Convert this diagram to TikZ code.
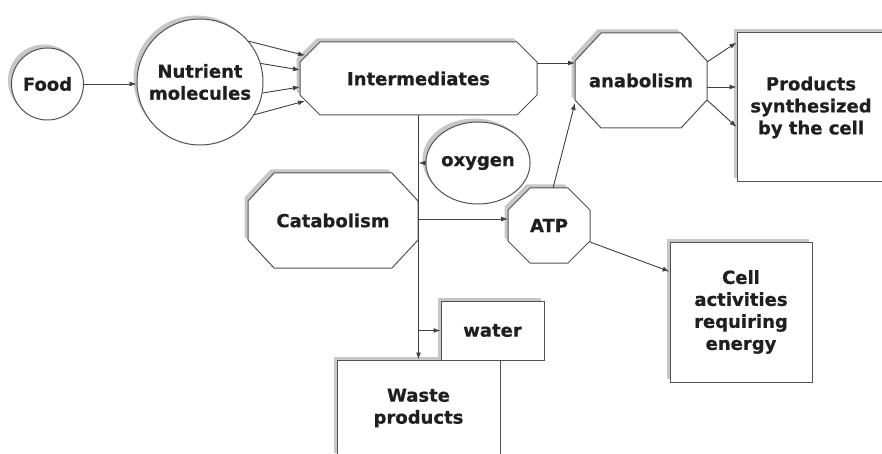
\documentclass[tikz,border=0pt]{standalone}
\usepackage{fontspec}
\setmainfont[BoldFeatures={FakeBold=0.6}]{DejaVu Sans}
\usetikzlibrary{shapes.geometric,shadows,calc,arrows.meta,backgrounds}

% chamfered frame drawn around a named label node: #1 node, #2 horizontal cut, #3 vertical cut
\newcommand\octframe[3]{%
  \path[octfill] ($(#1.north west)+(#2,0)$) -- ($(#1.north east)+(-#2,0)$)
    -- ($(#1.north east)+(0,#3)$) -- ($(#1.south east)+(0,-#3)$)
    -- ($(#1.south east)+(-#2,0)$) -- ($(#1.south west)+(#2,0)$)
    -- ($(#1.south west)+(0,-#3)$) -- ($(#1.north west)+(0,#3)$) -- cycle;}

\begin{document}
\begin{tikzpicture}[x=1pt,y=-1pt,
  every node/.style={font=\bfseries\fontsize{18}{22}\selectfont, text=black!88,
    align=center, inner sep=0pt},
  sh/.style={drop shadow={shadow xshift=-3.5pt, shadow yshift=3.5pt,
    fill=black!22, opacity=1}},
  edge line/.style={draw=black!68, line width=1pt},
  circ/.style={circle, edge line, fill=white, sh},
  oval/.style={ellipse, edge line, fill=white, sh},
  boxn/.style={rectangle, edge line, fill=white, sh},
  octlabel/.style={rectangle, draw=none, outer sep=0pt},
  octfill/.style={edge line, fill=white, sh},
  arr/.style={draw=black!75, line width=0.9pt, -{Latex[length=7pt,width=5pt]}},
]
\useasboundingbox (0,0) rectangle (882,454);

% round nodes
\node[circ, minimum size=72pt] (food) at (47.5,84) {Food};
\node[circ, minimum size=126pt] (nutr) at (200,82) {Nutrient\\molecules};
\node[oval, minimum width=90pt, minimum height=82pt] (oxy) at (478,163) {oxygen};

% chamfered nodes (labels; frames are drawn on the background layer)
\node[octlabel, minimum width=237pt, minimum height=73pt] (inter) at (418.5,78.5) {Intermediates};
\node[octlabel, minimum width=132pt, minimum height=95pt] (anab) at (641,80.5) {anabolism};
\node[octlabel, minimum width=170pt, minimum height=95pt] (catab) at (333,220.5) {Catabolism};
\node[octlabel, minimum width=82pt, minimum height=75pt] (atp) at (549,225.5) {ATP};

\begin{scope}[on background layer]
  \path[fill=white] (0,0) rectangle (882,454);
  \octframe{inter}{20}{20}
  \octframe{anab}{26}{28}
  \octframe{catab}{26}{28}
  \octframe{atp}{22}{22}
\end{scope}

% rectangular nodes
\node[boxn, minimum width=148pt, minimum height=149pt] (prod) at (811,107.5)
  {Products\\synthesized\\by the cell};
\node[boxn, minimum width=142pt, minimum height=140pt] (cell) at (741,312)
  {Cell\\activities\\requiring\\energy};
\node[boxn, minimum width=163pt, minimum height=96pt] (waste) at (418.5,408)
  {Waste\\products};
\node[boxn, minimum width=103pt, minimum height=59pt] (water) at (492.5,330.5) {water};

% connectors
\draw[arr] (food.east) -- (food.east -| nutr.west);

\draw[arr] (nutr.40)  -- ($(inter.west)+(5,-23)$);
\draw[arr] (nutr.17)  -- ($(inter.west)+(0,-8.5)$);
\draw[arr] (nutr.-10) -- ($(inter.west)+(0,8.5)$);
\draw[arr] (nutr.-31) -- ($(inter.west)+(5,22.5)$);

\coordinate (anabin) at ($(inter.east)+(0,-15.5)$);
\draw[arr] (anabin) -- (anabin -| anab.west);

\draw[arr] ($(anab.east)+(0,-18.5)$) -- ($(prod.north west)+(0,10)$);
\coordinate (prodmid) at ($(anab.east)+(0,6.5)$);
\draw[arr] (prodmid) -- (prodmid -| prod.west);
\draw[arr] ($(anab.east)+(0,19.5)$) -- ($(prod.west)+(0,19.5)$);

% main trunk down to the waste
\draw[arr] (inter.south) -- (inter.south |- waste.north);
\draw[arr] (oxy.west) -- (oxy.west -| inter.south);

\coordinate (atpin) at ($(atp.west)+(0,-6.5)$);
\draw[arr] (atpin -| inter.south) -- (atpin);
\draw[arr] (water.west -| inter.south) -- (water.west);

\draw[arr] ($(atp.north)+(4,0)$) -- ($(anab.south west)+(0,-25)$);
\draw[arr] ($(atp.east)+(0,16.5)$) -- ($(cell.north west)+(0,30)$);
\end{tikzpicture}
\end{document}
